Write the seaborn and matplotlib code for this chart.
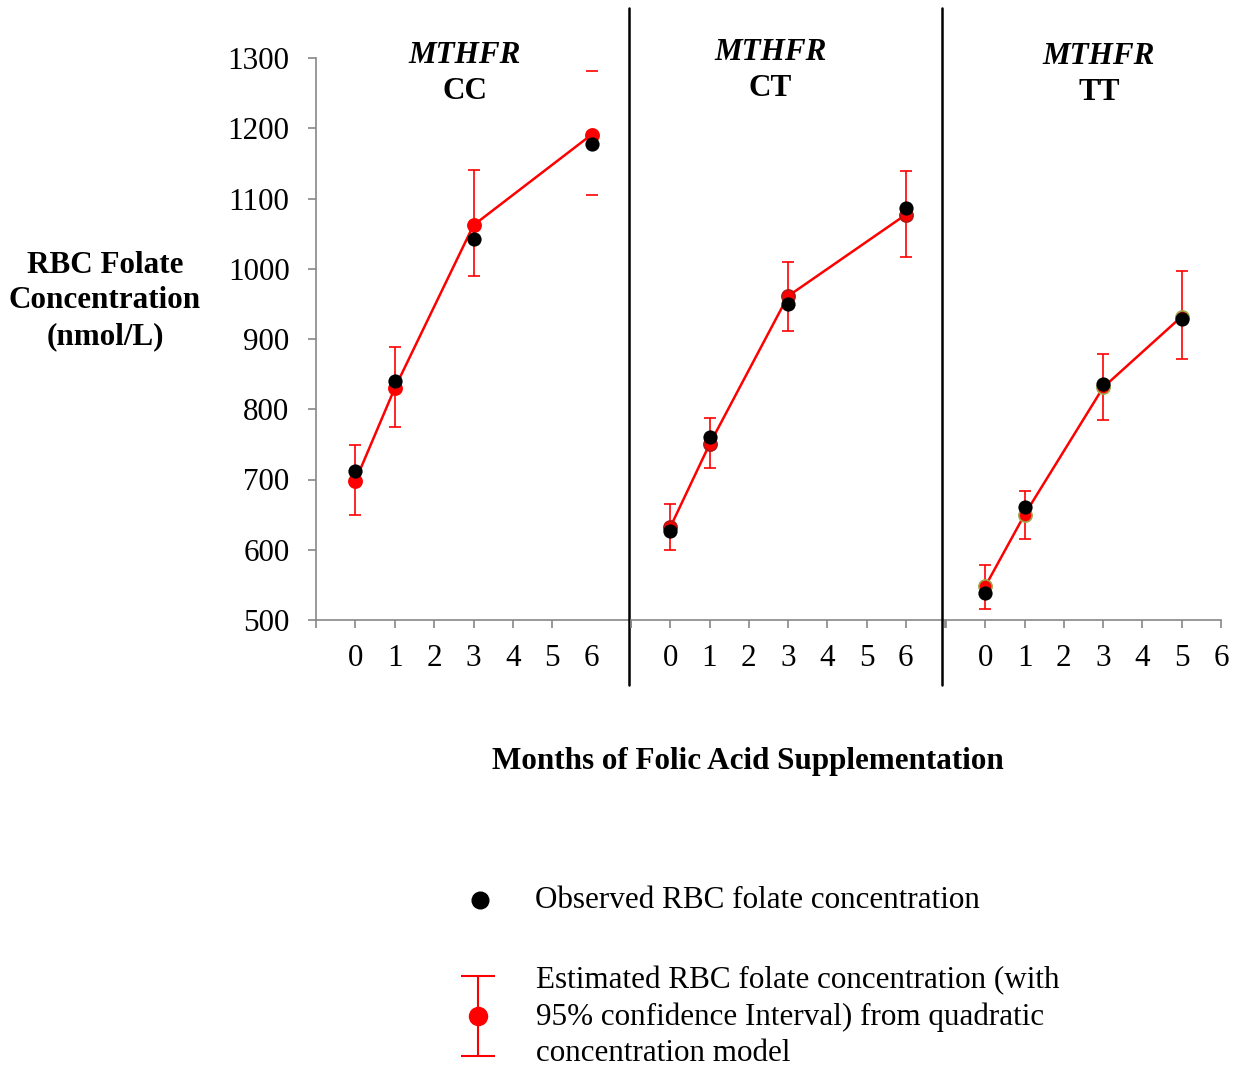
import numpy as np
import pandas as pd
import matplotlib
matplotlib.use("Agg")
import matplotlib.pyplot as plt
import seaborn as sns

# values (nmol/L)
genotypes = ["CC", "CT", "TT"]

months_cc = [0, 1, 3, 6]
obs_cc = [712, 840, 1042, 1177]
est_cc = [698, 830, 1062, 1191]
lo_cc = [649, 775, 990, 1105]
hi_cc = [749, 888, 1140, 1281]

months_ct = [0, 1, 3, 6]
obs_ct = [626, 761, 950, 1087]
est_ct = [632, 750, 961, 1077]
lo_ct = [599, 717, 912, 1017]
hi_ct = [665, 788, 1009, 1139]

months_tt = [0, 1, 3, 5]
obs_tt = [538, 661, 836, 929]
est_tt = [548, 650, 831, 932]
lo_tt = [516, 616, 784, 872]
hi_tt = [578, 683, 879, 997]

# the CC 6-month interval is drawn with caps only in the original
bar_shown_cc = [True, True, True, False]

month_labels = ["0", "1", "2", "3", "4", "5", "6"]
y_ticks = [500, 600, 700, 800, 900, 1000, 1100, 1200, 1300]

frames = []
for g, m, o, e, lo, hi in [("CC", months_cc, obs_cc, est_cc, lo_cc, hi_cc),
                           ("CT", months_ct, obs_ct, est_ct, lo_ct, hi_ct),
                           ("TT", months_tt, obs_tt, est_tt, lo_tt, hi_tt)]:
    frames.append(pd.DataFrame({"genotype": g, "month": m, "observed": o,
                                "estimated": e, "lower": lo, "upper": hi}))
df = pd.concat(frames, ignore_index=True)

sns.set_style("white")
plt.rcParams["font.family"] = ["Liberation Serif", "DejaVu Serif"]
plt.rcParams["font.size"] = 22
plt.rcParams["text.color"] = "black"
plt.rcParams["axes.labelcolor"] = "black"
plt.rcParams["xtick.color"] = "black"
plt.rcParams["ytick.color"] = "black"

FS = 22.4
W, H = 1234, 1068
fig = plt.figure(figsize=(W / 100, H / 100), dpi=100)

# overlay axes in pixel units for the legend
lax = fig.add_axes([0, 0, 1, 1])
lax.set_xlim(0, W)
lax.set_ylim(H, 0)
lax.axis("off")


def px_axes(left, top, right, bottom):
    return fig.add_axes([left / W, 1 - bottom / H, (right - left) / W, (bottom - top) / H])


axes = [px_axes(316, 58, 631, 620), px_axes(631, 58, 945, 620), px_axes(946, 58, 1221, 620)]
xmax = [7, 7, 6]
divider = [6.95, 6.92, None]
edge_cols = ["red", "#b01818", "#9aa84a"]
title_pos = [(0.473, 1.004, 0.940), (0.443, 1.009, 0.945), (0.556, 1.002, 0.938)]
axis_grey = "#878787"

for i, (ax, g) in enumerate(zip(axes, genotypes)):
    d = df[df.genotype == g]
    sns.lineplot(data=d, x="month", y="estimated", ax=ax, color="red", lw=1.8,
                 zorder=2, legend=False)
    yerr = [d.estimated - d.lower, d.upper - d.estimated]
    eb = ax.errorbar(d.month, d.estimated, yerr=yerr, fmt="o", color="red", ms=9.5,
                     mec=edge_cols[i], mew=1.2, ecolor="red", elinewidth=1.2,
                     capsize=4.5, capthick=1.2, zorder=3)
    if g == "CC":
        eb[2][0].set_color(["red" if s else "none" for s in bar_shown_cc])
    sns.scatterplot(data=d, x="month", y="observed", ax=ax, color="black", s=105,
                    edgecolor="black", linewidth=0, zorder=4, legend=False)

    ax.set_xlim(-1, xmax[i])
    ax.set_ylim(500, 1300)
    ax.set_xlabel("")
    ax.set_ylabel("")
    ax.patch.set_alpha(0)
    for s in ["top", "right", "left"]:
        ax.spines[s].set_visible(False)
    ax.spines["bottom"].set_color(axis_grey)
    ax.spines["bottom"].set_linewidth(1.2)

    ax.set_xticks(range(7))
    ax.set_xticklabels(month_labels)
    minor = [-1, 7] if xmax[i] == 7 else [-1]
    ax.set_xticks(minor, minor=True)
    ax.tick_params(axis="x", which="both", direction="out", length=6, width=1.2,
                   color=axis_grey, labelcolor="black", bottom=True)
    ax.tick_params(axis="x", which="major", labelsize=FS, pad=11)
    if g == "CC":
        ax.xaxis.get_major_ticks()[-1].tick1line.set_visible(False)

    if i == 0:
        ax.spines["left"].set_visible(True)
        ax.spines["left"].set_color(axis_grey)
        ax.spines["left"].set_linewidth(1.2)
        ax.set_yticks(y_ticks)
        ax.tick_params(axis="y", direction="out", length=6, width=1.2,
                       color=axis_grey, labelcolor="black", left=True,
                       labelsize=FS, pad=13)
    else:
        ax.set_yticks([])

    if divider[i] is not None:
        ax.axvline(divider[i], ymin=-0.116, ymax=1.089, color="black", lw=1.8,
                   clip_on=False, zorder=5)

    tx, ty1, ty2 = title_pos[i]
    ax.text(tx, ty1, "MTHFR", transform=ax.transAxes, ha="center", va="center",
            fontsize=FS, fontweight="bold", fontstyle="italic")
    ax.text(tx, ty2, g, transform=ax.transAxes, ha="center", va="center",
            fontsize=FS, fontweight="bold")

fig.text(105 / W, 1 - 301 / H, "RBC Folate\nConcentration\n(nmol/L)", ha="center",
         va="center", fontsize=FS, fontweight="bold", linespacing=1.3)
fig.text(748 / W, 1 - 761 / H, "Months of Folic Acid Supplementation", ha="center",
         va="center", fontsize=FS, fontweight="bold")

# legend
lax.plot([480], [900], "o", color="black", ms=12)
lax.errorbar([478], [1016], yerr=[40], fmt="o", color="red", ms=13, elinewidth=1.5,
             capsize=12.5, capthick=1.5)
lax.text(535, 901, "Observed RBC folate concentration", ha="left", va="center", fontsize=FS)
lax.text(536, 1017, "Estimated RBC folate concentration (with\n95% confidence Interval) from quadratic\nconcentration model",
         ha="left", va="center", fontsize=FS, linespacing=1.3)

fig.savefig("out.png", dpi=100)
